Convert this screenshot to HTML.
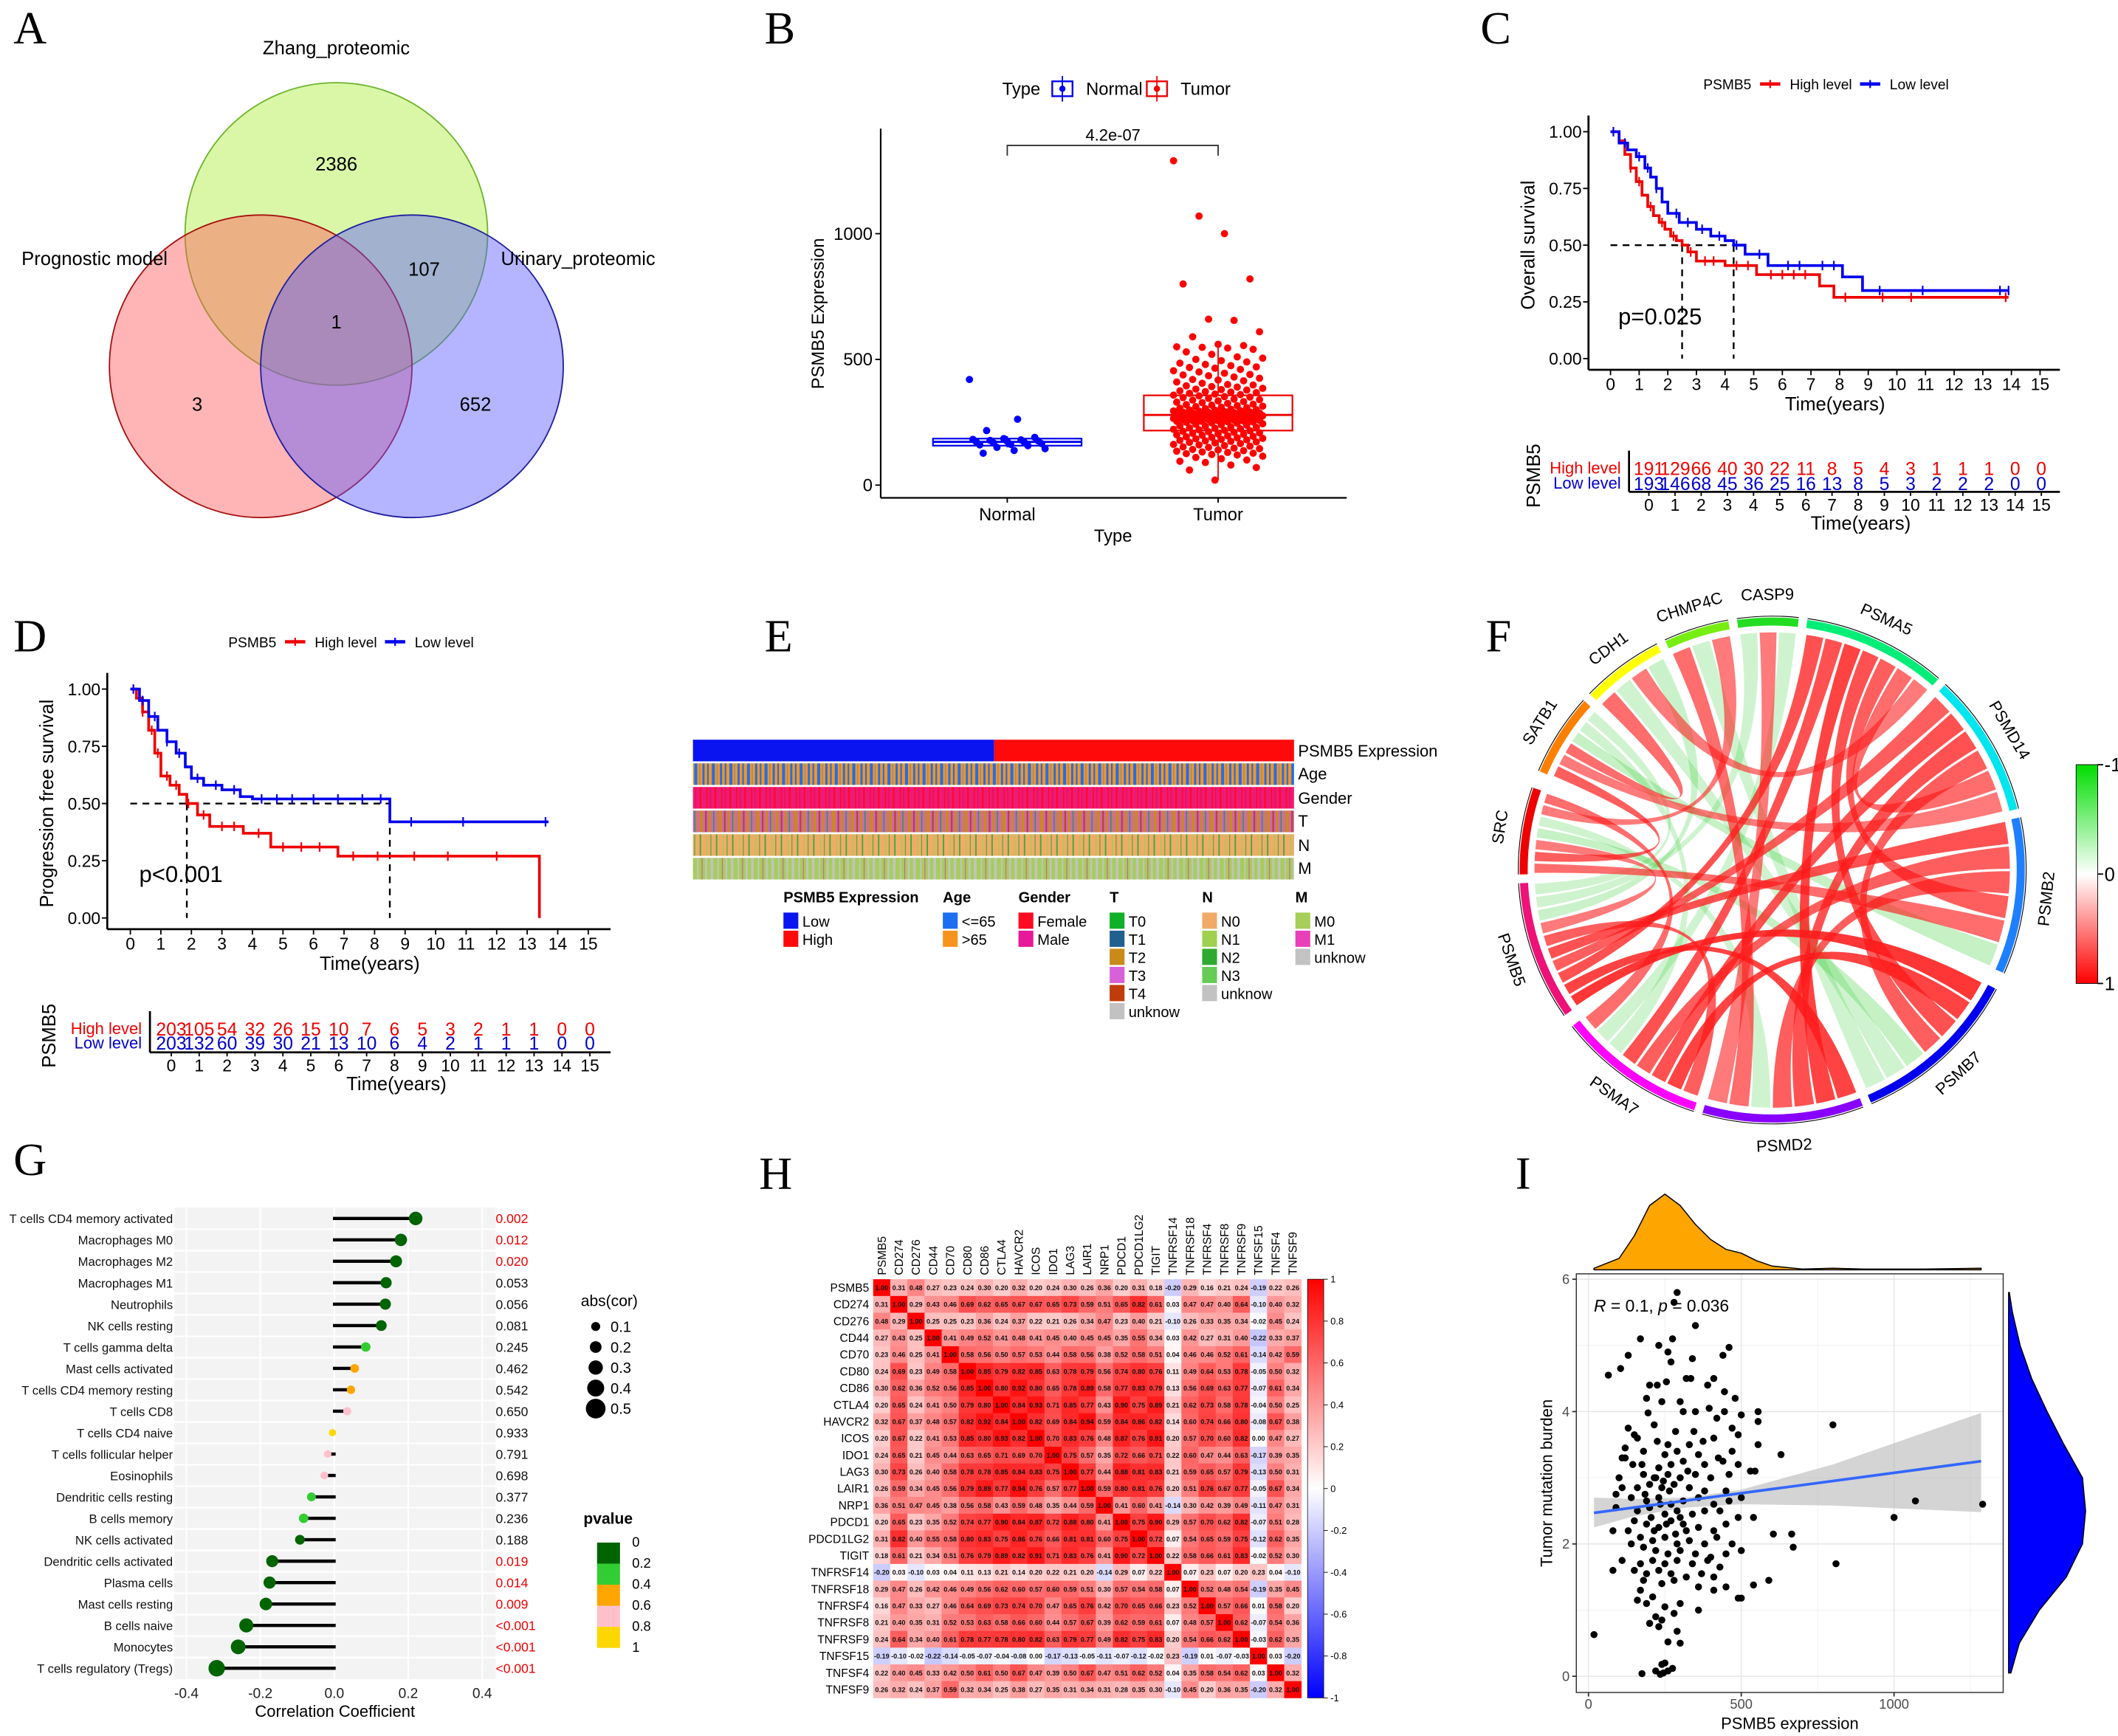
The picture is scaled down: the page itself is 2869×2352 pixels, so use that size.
<!DOCTYPE html>
<html><head><meta charset="utf-8"><title>PSMB5 figure</title>
<style>html,body{margin:0;padding:0;background:#fff}svg{display:block}text{font-family:"Liberation Sans",sans-serif}.L{font-family:"Liberation Serif",serif;font-size:34px}</style>
</head><body>
<svg id="fig" xmlns="http://www.w3.org/2000/svg" width="2869" height="2352" viewBox="0 0 1568 1285">
<defs>
<pattern id="pAge" width="13" height="20" patternUnits="userSpaceOnUse"><rect width="13" height="20" fill="#f7941d"/><rect x="0" width="1.6" height="20" fill="#1c6ff0"/><rect x="3.5" width="1.2" height="20" fill="#1c6ff0"/><rect x="7" width="2.2" height="20" fill="#1c6ff0"/><rect x="10.5" width="0.8" height="20" fill="#8a8a9a"/></pattern>
<pattern id="pGen" width="11" height="20" patternUnits="userSpaceOnUse"><rect width="11" height="20" fill="#ee1a78"/><rect x="1" width="1.2" height="20" fill="#ff0a20"/><rect x="6" width="0.8" height="20" fill="#ff0a20"/><rect x="8.5" width="1" height="20" fill="#f01050"/></pattern>
<pattern id="pT" width="14" height="20" patternUnits="userSpaceOnUse"><rect width="14" height="20" fill="#cf62c8"/><rect x="0" width="2.5" height="20" fill="#c98a1a"/><rect x="4" width="1.2" height="20" fill="#b8451a"/><rect x="6.5" width="2" height="20" fill="#c98a1a"/><rect x="10" width="0.8" height="20" fill="#20a040"/><rect x="12" width="1" height="20" fill="#c98a1a"/></pattern>
<pattern id="pN" width="12" height="20" patternUnits="userSpaceOnUse"><rect width="12" height="20" fill="#f2aa68"/><rect x="2" width="1" height="20" fill="#2fb03a"/><rect x="7" width="0.8" height="20" fill="#9fd050"/><rect x="10" width="0.6" height="20" fill="#2fb03a"/></pattern>
<pattern id="pM" width="15" height="20" patternUnits="userSpaceOnUse"><rect width="15" height="20" fill="#a6ce58"/><rect x="1" width="2" height="20" fill="#c2c2c2"/><rect x="6" width="1.2" height="20" fill="#c2c2c2"/><rect x="9.5" width="0.5" height="20" fill="#e040b0"/><rect x="12" width="1.5" height="20" fill="#c2c2c2"/></pattern>
<linearGradient id="gF" x1="0" y1="0" x2="0" y2="1"><stop offset="0" stop-color="#00dd00"/><stop offset="0.5" stop-color="#ffffff"/><stop offset="1" stop-color="#ff0000"/></linearGradient>
<linearGradient id="gH" x1="0" y1="0" x2="0" y2="1"><stop offset="0" stop-color="#ff0000"/><stop offset="0.5" stop-color="#ffffff"/><stop offset="1" stop-color="#0000ff"/></linearGradient>
</defs>
<g>
<text class="L" x="10" y="32">A</text>
<text class="L" x="566" y="32">B</text>
<text class="L" x="1096" y="32">C</text>
<text class="L" x="10" y="482">D</text>
<text class="L" x="566" y="482">E</text>
<text class="L" x="1100" y="482">F</text>
<text class="L" x="10" y="870">G</text>
<text class="L" x="562" y="880">H</text>
<text class="L" x="1122" y="880">I</text>
</g>
<g id="venn" font-size="14">
<circle cx="249" cy="173" r="112" fill="#b5f050" fill-opacity="0.5" stroke="#6cb52a" stroke-width="1"/>
<circle cx="193" cy="271" r="112" fill="#ff5a5a" fill-opacity="0.45" stroke="#a81010" stroke-width="1"/>
<circle cx="305" cy="271" r="112" fill="#5a5aff" fill-opacity="0.45" stroke="#2020a0" stroke-width="1"/>
<text x="249" y="40" text-anchor="middle">Zhang_proteomic</text>
<text x="70" y="196" text-anchor="middle">Prognostic model</text>
<text x="428" y="196" text-anchor="middle">Urinary_proteomic</text>
<text x="249" y="126" text-anchor="middle">2386</text>
<text x="314" y="204" text-anchor="middle">107</text>
<text x="249" y="243" text-anchor="middle">1</text>
<text x="146" y="304" text-anchor="middle">3</text>
<text x="352" y="304" text-anchor="middle">652</text>
</g>
<g id="E" font-size="12">
<rect x="513" y="547.5" width="223" height="16" fill="#0a14f0"/>
<rect x="736" y="547.5" width="222" height="16" fill="#ff0a0a"/>
<rect x="513" y="565" width="445" height="16" fill="url(#pAge)"/>
<rect x="513" y="582.5" width="445" height="16" fill="url(#pGen)"/>
<rect x="513" y="600" width="445" height="16" fill="url(#pT)"/>
<rect x="513" y="617.5" width="445" height="16" fill="url(#pN)"/>
<rect x="513" y="635" width="445" height="16" fill="url(#pM)"/>
<text x="961" y="560">PSMB5 Expression</text>
<text x="961" y="577">Age</text>
<text x="961" y="595">Gender</text>
<text x="961" y="612">T</text>
<text x="961" y="630">N</text>
<text x="961" y="647">M</text>
</g>
<g id="Elegend" font-size="11"></g>
<g id="A_B"></g>
<g id="C"></g>
<g id="D"></g>
<g id="F"></g>
<g id="G"></g>
<g id="H"></g>
<g id="I"></g>
</svg>
<script>
const NS='http://www.w3.org/2000/svg';
function mk(tag,attrs,parent){const e=document.createElementNS(NS,tag);for(const k in attrs)e.setAttribute(k,attrs[k]);parent.appendChild(e);return e;}
function tx(str,x,y,attrs,parent){const e=mk('text',Object.assign({x:x,y:y},attrs),parent);e.textContent=str;return e;}

/* ===== E legend data ===== */
const eGroups=['PSMB5 Expression','Age','Gender','T','N','M'];
const eGroupX=[580,698,754,821.5,890,959];
const eItems=[['Low','High'],['<=65','>65'],['Female','Male'],['T0','T1','T2','T3','T4','unknow'],['N0','N1','N2','N3','unknow'],['M0','M1','unknow']];
const eColors=[['#0a14f0','#ff0a0a'],['#1c6ff0','#f7941d'],['#ff0a20','#e8189a'],['#10b028','#1f6090','#c98a1a','#d860d8','#c03c0a','#c2c2c2'],['#f2aa68','#9fd050','#2faa30','#66cc55','#c2c2c2'],['#a6ce58','#e840b8','#c2c2c2']];
const EL=document.getElementById('Elegend');
eGroups.forEach((g,gi)=>{
  const h=tx(g,eGroupX[gi],668,{'font-weight':'bold'},EL);
  
  
  eItems[gi].forEach((it,ii)=>{
    const y=675.5+ii*13.4;
    const r=mk('rect',{x:eGroupX[gi],y:y,width:11,height:12,fill:eColors[gi][ii]},EL);
    
    
    const t=tx(it,eGroupX[gi]+14,y+10.5,{},EL);
    
    
  });
});

/* ===== B boxplot ===== */
const bNormal=[420,262,217,190,185,182,180,178,176,174,172,170,168,165,162,160,157,150,145,138,127];
const bTumor=[1290,1070,1000,820,800,660,655,610,590,560,555,550,548,545,540,530,520,510,505,500,495,490,485,480,475,470,468,465,460,455,450,445,440,438,435,430,425,420,418,415,410,405,400,398,395,392,390,385,382,380,378,375,372,370,368,365,362,360,358,355,352,350,348,345,342,340,338,335,332,330,328,325,322,320,318,316,314,312,310,308,306,304,302,300,299,298,296,295,294,292,291,290,289,288,287,286,285,284,283,282,281,280,279,278,277,276,275,274,273,272,271,270,269,268,267,266,265,264,263,262,261,260,259,258,257,256,255,254,253,252,251,250,248,246,244,242,240,238,236,234,232,230,228,226,224,222,220,218,216,214,212,210,208,206,204,202,200,198,196,194,192,190,188,186,184,182,180,178,176,174,172,170,168,165,162,160,157,155,152,150,147,145,142,140,137,135,132,130,127,125,122,120,115,110,105,100,95,90,80,70,60,20];
const bBoxNormal=[150,157,172,185,195];
const bBoxTumor=[20,217,279,357,560];
const bTicks=[0,500,1000];
const B=document.getElementById('A_B');
const yB=v=>359-v*0.1862;
const xBn=745.7, xBt=901.8;
{
  let e;
  e=mk('line',{x1:652,y1:95,x2:652,y2:368.4,stroke:'#000','stroke-width':1.2},B);
   
  e=mk('line',{x1:652,y1:368.4,x2:997,y2:368.4,stroke:'#000','stroke-width':1.2},B);
   
  bTicks.forEach(t=>{
    const l=mk('line',{x1:648,y1:yB(t),x2:652,y2:yB(t),stroke:'#000'},B);
     
    const tt=tx(String(t),646,yB(t)+4.5,{'text-anchor':'end','font-size':13},B);
     
  });
  [[xBn,'Normal'],[xBt,'Tumor']].forEach(([x,n])=>{
    const l=mk('line',{x1:x,y1:368.4,x2:x,y2:372,stroke:'#000'},B);
     
    const tt=tx(n,x,385,{'text-anchor':'middle','font-size':13},B);
     
  });
  e=tx('Type',824,401,{'text-anchor':'middle','font-size':13},B);
   
  e=tx('PSMB5 Expression',0,0,{'text-anchor':'middle','font-size':13,transform:'translate(610,232) rotate(-90)'},B);
   
  function box(x,s,col,nm){
    const g=mk('g',{},B);
     
    mk('line',{x1:x,y1:yB(s[0]),x2:x,y2:yB(s[4]),stroke:col,'stroke-width':1},g);
    mk('rect',{x:x-55,y:yB(s[3]),width:110,height:yB(s[1])-yB(s[3]),fill:'#fff',stroke:col,'stroke-width':1.2},g);
    mk('line',{x1:x-55,y1:yB(s[2]),x2:x+55,y2:yB(s[2]),stroke:col,'stroke-width':1.6},g);
  }
  box(xBn,bBoxNormal,'#0000ee','box-normal');
  box(xBt,bBoxTumor,'#ee0000','box-tumor');
  bNormal.forEach((v,i)=>{
    const c=mk('circle',{cx:xBn+((i*37)%23-11)/11*28,cy:yB(v),r:2.7,fill:'#0000ff'},B);
     
  });
  bTumor.forEach((v,i)=>{
    const c=mk('circle',{cx:xBt+((i*37)%29-14)/14*33,cy:yB(v),r:2.7,fill:'#ff0000'},B);
     
  });
  e=mk('path',{d:`M${xBn},115 V107.5 H${xBt} V115`,fill:'none',stroke:'#333','stroke-width':1},B);
   
  e=tx('4.2e-07',824,104,{'text-anchor':'middle','font-size':12},B);
   
  e=tx('Type',742,70,{'font-size':13},B);
   
  [[779,'#0000ee','Normal',804],[849,'#ee0000','Tumor',874]].forEach(([x,c,n,tx0])=>{
    const g=mk('g',{},B);
     
    mk('rect',{x:x,y:60,width:15,height:11,fill:'#fff',stroke:c,'stroke-width':1.3},g);
    mk('line',{x1:x+7.5,y1:56,x2:x+7.5,y2:75,stroke:c},g);
    mk('circle',{cx:x+7.5,cy:65.5,r:2.3,fill:c},g);
    tx(n,tx0,70,{'font-size':13},g);
  });
}

/* ===== KM helper ===== */
function km(par,cfg){
  const X=t=>cfg.x0+t*cfg.xs, Y=s=>cfg.y0-s*cfg.ys;
  let e;
  e=mk('line',{x1:cfg.ax,y1:cfg.y0-cfg.ys-12,x2:cfg.ax,y2:cfg.axY,stroke:'#000','stroke-width':1.5},par);
   
  e=mk('line',{x1:cfg.ax,y1:cfg.axY,x2:cfg.axR,y2:cfg.axY,stroke:'#000','stroke-width':1.5},par);
   
  kmYTicks.forEach(s=>{
    const l=mk('line',{x1:cfg.ax-4,y1:Y(s),x2:cfg.ax,y2:Y(s),stroke:'#000'},par);
     
    const t=tx(s.toFixed(2),cfg.ax-5,Y(s)+4.5,{'text-anchor':'end','font-size':12.5},par);
     
  });
  kmXTicks.forEach(t=>{
    const l=mk('line',{x1:X(t),y1:cfg.axY,x2:X(t),y2:cfg.axY+4,stroke:'#000'},par);
     
    const tt=tx(String(t),X(t),cfg.axY+15,{'text-anchor':'middle','font-size':12.5},par);
     
  });
  e=tx('Time(years)',(cfg.ax+cfg.axR)/2+8,cfg.axY+30,{'text-anchor':'middle','font-size':14},par);
   
  e=tx(cfg.ylab,0,0,{'text-anchor':'middle','font-size':14,transform:`translate(${cfg.ax-40},${Y(0.5)}) rotate(-90)`},par);
   
  const mx=Math.max(cfg.medH,cfg.medL);
  e=mk('path',{d:`M${X(0)},${Y(0.5)} H${X(mx)} M${X(cfg.medH)},${Y(0.5)} V${Y(0)} M${X(cfg.medL)},${Y(0.5)} V${Y(0)}`,stroke:'#000','stroke-width':1.3,'stroke-dasharray':'5,4',fill:'none'},par);
   
  function curve(T,S,col,nm,cens){
    let d=`M${X(T[0])},${Y(S[0])}`;
    for(let i=1;i<T.length;i++) d+=` H${X(T[i])} V${Y(S[i])}`;
    const p=mk('path',{d:d,fill:'none',stroke:col,'stroke-width':2},par);
     
    cens.forEach(t=>{
      let s=S[0]; for(let i=0;i<T.length;i++){ if(T[i]<=t) s=S[i]; }
      const c=mk('line',{x1:X(t),y1:Y(s)-3.5,x2:X(t),y2:Y(s)+3.5,stroke:col,'stroke-width':1.2},par);
       
    });
  }
  curve(cfg.hT,cfg.hS,'#ee0000','curve-high-level',cfg.hC);
  curve(cfg.lT,cfg.lS,'#0000ee','curve-low-level',cfg.lC);
  e=tx(cfg.ptxt,cfg.px,cfg.py,{'font-size':17},par);
   
  e=tx('PSMB5',cfg.lgX,cfg.lgY+4,{'font-size':10.5},par);
   
  [[cfg.lgX+42,'#ee0000','High level'],[cfg.lgX+116,'#0000ee','Low level']].forEach(([x,c,n])=>{
    const g=mk('g',{},par);
     
    mk('line',{x1:x,y1:cfg.lgY,x2:x+15,y2:cfg.lgY,stroke:c,'stroke-width':2.5},g);
    mk('line',{x1:x+7.5,y1:cfg.lgY-3,x2:x+7.5,y2:cfg.lgY+3,stroke:c,'stroke-width':1.2},g);
    tx(n,x+22,cfg.lgY+4,{'font-size':10.5},g);
  });
  const RX=t=>cfg.r0+t*cfg.rs;
  e=mk('line',{x1:cfg.rv,y1:cfg.rHy-13,x2:cfg.rv,y2:cfg.rAx,stroke:'#000','stroke-width':1.5},par);
   
  e=mk('line',{x1:cfg.rv,y1:cfg.rAx,x2:cfg.axR,y2:cfg.rAx,stroke:'#000','stroke-width':1.5},par);
   
  kmXTicks.forEach(t=>{
    mk('line',{x1:RX(t),y1:cfg.rAx,x2:RX(t),y2:cfg.rAx+3,stroke:'#000'},par);
    const tt=tx(String(t),RX(t),cfg.rAx+14,{'text-anchor':'middle','font-size':12.5},par);
     
  });
  [[cfg.riskH,'#ee0000',cfg.rHy,'High level'],[cfg.riskL,'#0000cc',cfg.rLy,'Low level']].forEach(([arr,c,y,n])=>{
    const lab=tx(n,cfg.rv-6,y+4,{'text-anchor':'end','font-size':12,fill:c},par);
     
    arr.forEach((v,i)=>{
      const t=tx(String(v),RX(kmXTicks[i]),y+5,{'text-anchor':'middle','font-size':13.5,fill:c},par);
       
    });
  });
  e=tx('Time(years)',(cfg.rv+cfg.axR)/2+12,cfg.rAx+28,{'text-anchor':'middle','font-size':14},par);
   
  e=tx('PSMB5',0,0,{'text-anchor':'middle','font-size':14,transform:`translate(${cfg.rLabX},${(cfg.rHy+cfg.rLy)/2}) rotate(-90)`},par);
   
}
const kmYTicks=[0,0.25,0.5,0.75,1];
const kmXTicks=[0,1,2,3,4,5,6,7,8,9,10,11,12,13,14,15];
const cHighT=[0,0.3,0.5,0.7,0.9,1.1,1.3,1.5,1.7,1.9,2.1,2.3,2.5,2.7,3.0,4.0,5.1,7.3,7.8,13.9];
const cHighS=[1,0.96,0.9,0.84,0.78,0.72,0.67,0.63,0.6,0.57,0.54,0.52,0.5,0.47,0.43,0.41,0.37,0.32,0.27,0.27];
const cLowT=[0,0.3,0.6,0.9,1.2,1.4,1.6,1.8,2.0,2.4,3.0,3.5,4.0,4.3,4.7,5.5,8.1,8.8,13.9];
const cLowS=[1,0.95,0.92,0.89,0.84,0.8,0.75,0.69,0.64,0.6,0.57,0.54,0.52,0.5,0.46,0.41,0.36,0.30,0.30];
const cHighCens=[0.7,1.0,1.4,1.8,2.2,2.8,3.3,3.6,4.4,4.8,5.6,6.0,6.4,6.8,8.2,9.5,10.5,13.8];
const cLowCens=[0.1,0.5,1.0,1.3,1.6,2.3,2.7,3.2,3.8,4.4,5.2,6.2,6.6,7.4,7.8,9.4,10.9,13.6,13.9];
const cRiskHigh=[191,129,66,40,30,22,11,8,5,4,3,1,1,1,0,0];
const cRiskLow=[193,146,68,45,36,25,16,13,8,5,3,2,2,2,0,0];
km(document.getElementById('C'),{x0:1192.3,xs:21.2,y0:265.3,ys:168,ax:1176,axY:273.6,axR:1525,ylab:'Overall survival',
  hT:cHighT,hS:cHighS,lT:cLowT,lS:cLowS,hC:cHighCens,lC:cLowCens,medH:2.5,medL:4.3,ptxt:'p=0.025',px:1198,py:240,
  lgX:1261,lgY:62,r0:1220.7,rs:19.37,rv:1206,rAx:364,rHy:346.5,rLy:357.7,riskH:cRiskHigh,riskL:cRiskLow,rLabX:1140});
const dHighT=[0,0.2,0.4,0.6,0.8,1.0,1.3,1.6,1.85,2.2,2.6,3.7,4.6,6.8,13.4,13.4];
const dHighS=[1,0.96,0.9,0.82,0.72,0.62,0.58,0.54,0.5,0.45,0.40,0.37,0.31,0.27,0.27,0];
const dLowT=[0,0.3,0.6,0.9,1.2,1.5,1.8,2.0,2.4,3.0,3.6,4.0,8.5,13.7];
const dLowS=[1,0.95,0.88,0.82,0.77,0.72,0.66,0.61,0.58,0.56,0.53,0.52,0.42,0.42];
const dHighCens=[0.4,0.7,0.9,1.2,1.5,1.9,2.4,3.0,3.4,4.2,5.0,5.6,6.2,7.3,8.1,9.3,10.4,12.0];
const dLowCens=[0.1,0.4,0.8,1.2,1.6,2.2,2.8,3.4,4.3,4.8,5.3,6.0,6.8,7.6,8.2,9.2,10.9,13.6];
const dRiskHigh=[203,105,54,32,26,15,10,7,6,5,3,2,1,1,0,0];
const dRiskLow=[203,132,60,39,30,21,13,10,6,4,2,1,1,1,0,0];
km(document.getElementById('D'),{x0:96.5,xs:22.6,y0:679.5,ys:169.5,ax:79.4,axY:687.8,axR:452,ylab:'Progression free survival',
  hT:dHighT,hS:dHighS,lT:dLowT,lS:dLowS,hC:dHighCens,lC:dLowCens,medH:1.85,medL:8.5,ptxt:'p<0.001',px:103,py:653,
  lgX:169,lgY:475,r0:126.8,rs:20.66,rv:111,rAx:779,rHy:761.5,rLy:772,riskH:dRiskHigh,riskL:dRiskLow,rLabX:41});

/* ===== F chord ===== */
const fNames=['CASP9','PSMA5','PSMD14','PSMB2','PSMB7','PSMD2','PSMA7','PSMB5','SRC','SATB1','CDH1','CHMP4C'];
const fStart=[-8,8,43,78,118,159,198,235,269,293,314,335];
const fEnd=[6,41,76,114,157,196,232,267,289,312,333,350];
const fColors=['#22dd22','#00ee77','#00e5ee','#1e80ff','#0000ee','#8800ff','#ff00ff','#ee1177','#ee0000','#ff8000','#ffff00','#77ee11'];
const fLinks=[['PSMB5','PSMB7',0.8],['PSMB5','PSMD2',0.7],['PSMB5','PSMA5',0.6],['PSMB5','PSMD14',0.5],['PSMB5','PSMB2',0.6],['PSMB5','PSMA7',0.5],
['PSMA7','PSMB7',0.7],['PSMA7','PSMD14',0.6],['PSMA7','PSMB2',0.5],['PSMA7','PSMA5',0.6],['PSMD2','PSMA5',0.7],['PSMD2','PSMD14',0.6],['PSMD2','PSMB2',0.5],
['PSMB7','PSMA5',0.6],['PSMB7','PSMD14',0.5],['PSMB2','PSMA5',0.5],['PSMD14','PSMA5',0.4],['SRC','PSMB2',0.4],['SRC','SATB1',0.5],['SRC','PSMB5',0.3],
['SRC','PSMB7',-0.3],['SRC','PSMD2',-0.2],['SATB1','PSMD14',0.3],['SATB1','CDH1',0.4],['SATB1','PSMB2',-0.3],['SATB1','PSMA7',-0.2],['CDH1','PSMB7',-0.2],
['CDH1','PSMA5',0.3],['CDH1','PSMB5',-0.25],['CHMP4C','PSMD2',0.4],['CHMP4C','PSMB7',-0.2],['CHMP4C','SRC',0.3],['CASP9','PSMB5',-0.2],['CASP9','PSMD2',0.3],
['CASP9','PSMA7',-0.2],['SRC','PSMA7',0.4],['PSMB5','SATB1',-0.2]];
{
  const F=document.getElementById('F');
  const cx=1312,cy=644,R=176;
  const P=(a,r)=>[cx+r*Math.sin(a*Math.PI/180),cy-r*Math.cos(a*Math.PI/180)];
  const slots={}; fNames.forEach(n=>slots[n]=[]);
  fLinks.forEach((l,i)=>{slots[l[0]].push(i);slots[l[1]].push(i);});
  const ends={};
  fNames.forEach((n,k)=>{
    const arr=slots[n], span=(fEnd[k]-fStart[k])/Math.max(arr.length,1);
    arr.forEach((li,j)=>{ (ends[li]=ends[li]||[]).push([fStart[k]+j*span+0.3,fStart[k]+(j+1)*span-0.3]); });
  });
  const order=fLinks.map((l,i)=>i).sort((a,b)=>fLinks[a][2]-fLinks[b][2]);
  order.forEach(i=>{
    const l=fLinks[i];
    const [a,b]=ends[i], v=l[2];
    const p1=P(a[0],R),p2=P(a[1],R),q1=P(b[0],R),q2=P(b[1],R);
    const d=`M${p1} A${R},${R} 0 0 1 ${p2} Q${cx},${cy} ${q1} A${R},${R} 0 0 1 ${q2} Q${cx},${cy} ${p1} Z`;
    const col=v>=0?'#ff1a1a':'#40d040';
    const op=v>=0?(0.4+v*0.6):(0.15+Math.abs(v)*0.5);
    const e=mk('path',{d:d,fill:col,'fill-opacity':op.toFixed(2)},F);
     
  });
  fNames.forEach((n,k)=>{
    const a0=fStart[k],a1=fEnd[k],r=184;
    const s=P(a0,r),e2=P(a1,r);
    const arc=mk('path',{d:`M${s} A${r},${r} 0 0 1 ${e2}`,fill:'none',stroke:fColors[k],'stroke-width':6},F);
     
    const tk=mk('path',{d:`M${P(a0,188)} A188,188 0 0 1 ${P(a1,188)}`,fill:'none',stroke:'#000','stroke-width':0.6},F);
     
    const m=(a0+a1)/2, lp=P(m,204);
    let rot=m; if(((m%360)+360)%360>90 && ((m%360)+360)%360<270) rot=m-180;
    const t=tx(n,lp[0],lp[1]+4,{'text-anchor':'middle','font-size':12,transform:`rotate(${rot},${lp[0]},${lp[1]})`},F);
     
  });
  let e=mk('rect',{x:1537,y:566,width:16,height:162,fill:'url(#gF)',stroke:'#000','stroke-width':0.5},F);
   
  [['-1',566],['0',647],['1',728]].forEach(([s,y])=>{
    mk('line',{x1:1553,y1:y,x2:1557,y2:y,stroke:'#000'},F);
    const t=tx(s,1558,y+5,{'font-size':14},F);
     
  });
}

/* ===== G lollipop ===== */
const gCells=['T cells CD4 memory activated','Macrophages M0','Macrophages M2','Macrophages M1','Neutrophils','NK cells resting','T cells gamma delta','Mast cells activated','T cells CD4 memory resting','T cells CD8','T cells CD4 naive','T cells follicular helper','Eosinophils','Dendritic cells resting','B cells memory','NK cells activated','Dendritic cells activated','Plasma cells','Mast cells resting','B cells naive','Monocytes','T cells regulatory (Tregs)'];
const gCor=[0.22,0.18,0.167,0.14,0.138,0.127,0.085,0.055,0.045,0.035,-0.005,-0.018,-0.027,-0.062,-0.083,-0.093,-0.168,-0.175,-0.185,-0.238,-0.26,-0.318];
const gP=[0.002,0.012,0.020,0.053,0.056,0.081,0.245,0.462,0.542,0.650,0.933,0.791,0.698,0.377,0.236,0.188,0.019,0.014,0.009,0.0005,0.0005,0.0005];
const gTicks=[-0.4,-0.2,0,0.2,0.4];
const gSizeLegend=[0.1,0.2,0.3,0.4,0.5];
const gPalette=['#006400','#32cd32','#ffa500','#ffc0cb','#ffd700'];
{
  const G=document.getElementById('G');
  const X=v=>247.5+v*273.75, Y=i=>902+i*15.86, rad=v=>2.6+Math.abs(v)*11;
  let e=mk('rect',{x:129,y:894,width:238,height:349,fill:'#f3f3f3'},G);
   
  gTicks.forEach(t=>{ const l=mk('line',{x1:X(t),y1:894,x2:X(t),y2:1243,stroke:'#fff','stroke-width':1.2},G);  
    const tt=tx(t===0?'0.0':t.toFixed(1),X(t),1257,{'text-anchor':'middle','font-size':10.5,fill:'#222'},G);  });
  gCells.forEach((c,i)=>{
    if(i>0){const l=mk('line',{x1:129,y1:Y(i)-7.93,x2:367,y2:Y(i)-7.93,stroke:'#fff','stroke-width':1.2},G);  }
  });
  gCells.forEach((c,i)=>{
    const t=tx(c,128,Y(i)+3.5,{'text-anchor':'end','font-size':9.1,fill:'#111'},G);
     
    const st=mk('line',{x1:X(0)+(gCor[i]>=0?-1:1),y1:Y(i),x2:X(gCor[i]),y2:Y(i),stroke:'#000','stroke-width':2.4},G);
     
    const p=gP[i], col=gPalette[Math.min(4,Math.floor(p/0.2))];
    const d=mk('circle',{cx:X(gCor[i]),cy:Y(i),r:rad(gCor[i]),fill:col},G);
     
    const pl=tx(p<0.001?'<0.001':p.toFixed(3),367,Y(i)+3.5,{'font-size':9.6,fill:p<0.05?'#ee0000':'#111'},G);
     
  });
  e=tx('Correlation Coefficient',248,1271,{'text-anchor':'middle','font-size':12},G);
   
  e=tx('abs(cor)',430,967,{'font-size':11.5},G);
   
  gSizeLegend.forEach((s,i)=>{
    const y=982+i*15.2;
    const c=mk('circle',{cx:441,cy:y,r:rad(s)*0.9,fill:'#000'},G);  
    const t=tx(String(s),452,y+4,{'font-size':11},G);  
  });
  e=tx('pvalue',432,1128,{'font-size':11.5,'font-weight':'bold'},G);
   
  gPalette.forEach((c,i)=>{ const r=mk('rect',{x:442,y:1142+i*15.6,width:17,height:15.6,fill:c},G);  });
  ['0','0.2','0.4','0.6','0.8','1'].forEach((s,i)=>{ const t=tx(s,468,1145+i*15.6,{'font-size':10},G);  });
}

/* ===== H correlation heatmap ===== */
const hGenes=['PSMB5','CD274','CD276','CD44','CD70','CD80','CD86','CTLA4','HAVCR2','ICOS','IDO1','LAG3','LAIR1','NRP1','PDCD1','PDCD1LG2','TIGIT','TNFRSF14','TNFRSF18','TNFRSF4','TNFRSF8','TNFRSF9','TNFSF15','TNFSF4','TNFSF9'];
const hRow0=[1.00,0.31,0.48,0.27,0.23,0.24,0.30,0.20,0.32,0.20,0.24,0.30,0.26,0.36,0.20,0.31,0.18,-0.20,0.29,0.16,0.21,0.24,-0.19,0.22,0.26];
const hRow1=[0.31,1.00,0.29,0.43,0.46,0.69,0.62,0.65,0.67,0.67,0.65,0.73,0.59,0.51,0.65,0.82,0.61,0.03,0.47,0.47,0.40,0.64,-0.10,0.40,0.32];
const hRow2=[0.48,0.29,1.00,0.25,0.25,0.23,0.36,0.24,0.37,0.22,0.21,0.26,0.34,0.47,0.23,0.40,0.21,-0.10,0.26,0.33,0.35,0.34,-0.02,0.45,0.24];
const hRow3=[0.27,0.43,0.25,1.00,0.41,0.49,0.52,0.41,0.48,0.41,0.45,0.40,0.45,0.45,0.35,0.55,0.34,0.03,0.42,0.27,0.31,0.40,-0.22,0.33,0.37];
const hRow4=[0.23,0.46,0.25,0.41,1.00,0.58,0.56,0.50,0.57,0.53,0.44,0.58,0.56,0.38,0.52,0.58,0.51,0.04,0.46,0.46,0.52,0.61,-0.14,0.42,0.59];
const hRow5=[0.24,0.69,0.23,0.49,0.58,1.00,0.85,0.79,0.82,0.85,0.63,0.78,0.79,0.56,0.74,0.80,0.76,0.11,0.49,0.64,0.53,0.78,-0.05,0.50,0.32];
const hRow6=[0.30,0.62,0.36,0.52,0.56,0.85,1.00,0.80,0.92,0.80,0.65,0.78,0.89,0.58,0.77,0.83,0.79,0.13,0.56,0.69,0.63,0.77,-0.07,0.61,0.34];
const hRow7=[0.20,0.65,0.24,0.41,0.50,0.79,0.80,1.00,0.84,0.93,0.71,0.85,0.77,0.43,0.90,0.75,0.89,0.21,0.62,0.73,0.58,0.78,-0.04,0.50,0.25];
const hRow8=[0.32,0.67,0.37,0.48,0.57,0.82,0.92,0.84,1.00,0.82,0.69,0.84,0.94,0.59,0.84,0.86,0.82,0.14,0.60,0.74,0.66,0.80,-0.08,0.67,0.38];
const hRow9=[0.20,0.67,0.22,0.41,0.53,0.85,0.80,0.93,0.82,1.00,0.70,0.83,0.76,0.48,0.87,0.76,0.91,0.20,0.57,0.70,0.60,0.82,0.00,0.47,0.27];
const hRow10=[0.24,0.65,0.21,0.45,0.44,0.63,0.65,0.71,0.69,0.70,1.00,0.75,0.57,0.35,0.72,0.66,0.71,0.22,0.60,0.47,0.44,0.63,-0.17,0.39,0.35];
const hRow11=[0.30,0.73,0.26,0.40,0.58,0.78,0.78,0.85,0.84,0.83,0.75,1.00,0.77,0.44,0.88,0.81,0.83,0.21,0.59,0.65,0.57,0.79,-0.13,0.50,0.31];
const hRow12=[0.26,0.59,0.34,0.45,0.56,0.79,0.89,0.77,0.94,0.76,0.57,0.77,1.00,0.59,0.80,0.81,0.76,0.20,0.51,0.76,0.67,0.77,-0.05,0.67,0.34];
const hRow13=[0.36,0.51,0.47,0.45,0.38,0.56,0.58,0.43,0.59,0.48,0.35,0.44,0.59,1.00,0.41,0.60,0.41,-0.14,0.30,0.42,0.39,0.49,-0.11,0.47,0.31];
const hRow14=[0.20,0.65,0.23,0.35,0.52,0.74,0.77,0.90,0.84,0.87,0.72,0.88,0.80,0.41,1.00,0.75,0.90,0.29,0.57,0.70,0.62,0.82,-0.07,0.51,0.28];
const hRow15=[0.31,0.82,0.40,0.55,0.58,0.80,0.83,0.75,0.86,0.76,0.66,0.81,0.81,0.60,0.75,1.00,0.72,0.07,0.54,0.65,0.59,0.75,-0.12,0.62,0.35];
const hRow16=[0.18,0.61,0.21,0.34,0.51,0.76,0.79,0.89,0.82,0.91,0.71,0.83,0.76,0.41,0.90,0.72,1.00,0.22,0.58,0.66,0.61,0.83,-0.02,0.52,0.30];
const hRow17=[-0.20,0.03,-0.10,0.03,0.04,0.11,0.13,0.21,0.14,0.20,0.22,0.21,0.20,-0.14,0.29,0.07,0.22,1.00,0.07,0.23,0.07,0.20,0.23,0.04,-0.10];
const hRow18=[0.29,0.47,0.26,0.42,0.46,0.49,0.56,0.62,0.60,0.57,0.60,0.59,0.51,0.30,0.57,0.54,0.58,0.07,1.00,0.52,0.48,0.54,-0.19,0.35,0.45];
const hRow19=[0.16,0.47,0.33,0.27,0.46,0.64,0.69,0.73,0.74,0.70,0.47,0.65,0.76,0.42,0.70,0.65,0.66,0.23,0.52,1.00,0.57,0.66,0.01,0.58,0.20];
const hRow20=[0.21,0.40,0.35,0.31,0.52,0.53,0.63,0.58,0.66,0.60,0.44,0.57,0.67,0.39,0.62,0.59,0.61,0.07,0.48,0.57,1.00,0.62,-0.07,0.54,0.36];
const hRow21=[0.24,0.64,0.34,0.40,0.61,0.78,0.77,0.78,0.80,0.82,0.63,0.79,0.77,0.49,0.82,0.75,0.83,0.20,0.54,0.66,0.62,1.00,-0.03,0.62,0.35];
const hRow22=[-0.19,-0.10,-0.02,-0.22,-0.14,-0.05,-0.07,-0.04,-0.08,0.00,-0.17,-0.13,-0.05,-0.11,-0.07,-0.12,-0.02,0.23,-0.19,0.01,-0.07,-0.03,1.00,0.03,-0.20];
const hRow23=[0.22,0.40,0.45,0.33,0.42,0.50,0.61,0.50,0.67,0.47,0.39,0.50,0.67,0.47,0.51,0.62,0.52,0.04,0.35,0.58,0.54,0.62,0.03,1.00,0.32];
const hRow24=[0.26,0.32,0.24,0.37,0.59,0.32,0.34,0.25,0.38,0.27,0.35,0.31,0.34,0.31,0.28,0.35,0.30,-0.10,0.45,0.20,0.36,0.35,-0.20,0.32,1.00];
const hRows=[hRow0,hRow1,hRow2,hRow3,hRow4,hRow5,hRow6,hRow7,hRow8,hRow9,hRow10,hRow11,hRow12,hRow13,hRow14,hRow15,hRow16,hRow17,hRow18,hRow19,hRow20,hRow21,hRow22,hRow23,hRow24];
const hScaleTicks=[1,0.8,0.6,0.4,0.2,0,-0.2,-0.4,-0.6,-0.8,-1];
{
  const H=document.getElementById('H');
  const x0=646.4,y0=947,cw=12.68,ch=12.4;
  const col=v=>{ if(v>=0){const g=Math.round(255*(1-v));return `rgb(255,${g},${g})`;} const g=Math.round(255*(1+v));return `rgb(${g},${g},255)`; };
  hRows.forEach((row,i)=>{
    row.forEach((v,j)=>{
      const r=mk('rect',{x:x0+j*cw,y:y0+i*ch,width:cw+0.2,height:ch+0.2,fill:col(v)},H);
       
      const t=tx(v.toFixed(2),x0+j*cw+cw/2,y0+i*ch+ch/2+1.9,{'text-anchor':'middle','font-size':5,'font-weight':'bold',fill:'#111'},H);
       
    });
  });
  hGenes.forEach((g,i)=>{
    const t=tx(g,x0-3,y0+i*ch+ch/2+3,{'text-anchor':'end','font-size':8.5},H);
     
    const cx=x0+i*cw+cw/2+3;
    const c=tx(g,0,0,{'font-size':8.5,transform:`translate(${cx},${y0-3}) rotate(-90)`},H);
     
  });
  let e=mk('rect',{x:968,y:y0,width:12,height:25*ch,fill:'url(#gH)',stroke:'#000','stroke-width':0.4},H);
   
  hScaleTicks.forEach(v=>{
    const y=y0+(1-v)/2*25*ch;
    mk('line',{x1:980,y1:y,x2:983,y2:y,stroke:'#000','stroke-width':0.5},H);
    const t=tx(String(v),985,y+2.5,{'font-size':7},H);
     
  });
}

/* ===== I scatter ===== */
const iPoints=[[18,0.63],[800,3.8],[810,1.7],[1000,2.4],[1070,2.65],[1290,2.6],[630,3.35],[605,2.15],[665,2.15],[670,1.95],[590,1.45],[540,1.38],[500,1.18],[490,1.18],[555,3.5],[555,3.85],[555,4.0],[545,3.1],[540,2.4],[65,4.55],[105,4.65],[130,4.85],[170,5.1],[230,5.0],[275,5.1],[290,5.8],[280,5.65],[350,5.3],[460,4.97],[440,4.85],[340,4.8],[260,4.9],[270,4.75],[200,4.4],[225,4.4],[255,4.45],[335,4.5],[320,4.5],[410,4.5],[390,4.4],[445,4.3],[480,4.2],[190,4.2],[240,4.15],[300,4.15],[310,4.0],[350,4.0],[395,4.05],[445,4.0],[500,3.95],[195,3.98],[130,3.75],[215,3.8],[285,3.7],[345,3.7],[420,3.9],[470,3.75],[150,3.65],[160,3.6],[225,3.55],[260,3.5],[330,3.5],[375,3.55],[410,3.6],[490,3.65],[120,3.45],[180,3.4],[250,3.35],[290,3.4],[360,3.35],[425,3.3],[470,3.4],[120,3.3],[110,3.3],[175,3.2],[230,3.15],[270,3.2],[310,3.25],[380,3.2],[440,3.25],[490,3.2],[145,3.2],[180,3.05],[220,3.0],[260,3.05],[300,3.0],[350,3.05],[400,3.0],[460,3.05],[530,3.1],[100,3.0],[90,2.75],[160,2.85],[200,2.9],[240,2.85],[280,2.9],[330,2.85],[380,2.8],[450,2.8],[110,2.85],[140,2.7],[190,2.65],[230,2.7],[270,2.6],[310,2.65],[360,2.7],[410,2.6],[460,2.65],[500,2.7],[90,2.55],[160,2.5],[200,2.55],[250,2.45],[290,2.5],[340,2.45],[380,2.5],[430,2.5],[490,2.4],[150,2.35],[190,2.3],[230,2.25],[270,2.35],[310,2.3],[360,2.25],[410,2.2],[450,2.3],[80,2.2],[130,2.2],[170,2.1],[210,2.05],[250,2.1],[290,2.0],[330,2.05],[380,2.0],[420,2.1],[470,2.0],[140,2.0],[180,1.95],[220,1.9],[260,1.85],[300,1.9],[350,1.85],[400,1.8],[450,1.85],[500,1.9],[110,1.75],[170,1.7],[210,1.75],[250,1.7],[290,1.75],[340,1.7],[390,1.75],[430,1.65],[80,1.6],[150,1.6],[190,1.55],[230,1.6],[270,1.55],[320,1.5],[370,1.55],[410,1.5],[180,1.45],[240,1.4],[280,1.45],[360,1.35],[410,1.3],[450,1.35],[170,1.3],[210,1.2],[160,1.15],[190,1.1],[250,1.05],[300,1.1],[360,1.0],[280,0.95],[220,0.9],[240,0.85],[200,0.8],[230,0.75],[290,0.68],[260,0.52],[300,0.5],[240,0.18],[250,0.2],[275,0.12],[220,0.08],[245,0.05],[260,0.08],[175,0.04],[235,0.03],[215,3.0],[235,2.6],[265,2.8],[205,2.4],[320,2.2],[285,2.15],[245,2.95],[185,2.75],[325,3.1],[215,2.2],[255,2.3],[300,2.4]];
const iFitX=[18,1285];
const iFitY=[2.47,3.25];
const iBandX=[18,150,320,500,800,1285];
const iBandLo=[2.25,2.42,2.55,2.6,2.58,2.48];
const iBandHi=[2.7,2.68,2.7,2.82,3.2,3.98];
const iTopDensX=[18,100,150,200,250,300,350,400,450,500,550,600,700,800,900,1000,1100,1285];
const iTopDensH=[0.02,0.15,0.45,0.85,1.0,0.85,0.6,0.4,0.27,0.22,0.12,0.05,0.01,0.02,0.01,0.01,0.01,0.02];
const iRightDensY=[0.05,0.5,1,1.5,2,2.5,3,3.5,4,4.5,5,5.5,5.8];
const iRightDensW=[0.03,0.14,0.4,0.75,0.96,1.0,0.96,0.72,0.5,0.3,0.15,0.05,0.01];
const iXTicks=[0,500,1000];
const iYTicks=[0,2,4,6];
{
  const I=document.getElementById('I');
  const X=v=>1176+v*0.2262, Y=v=>1241-v*49;
  const L=1167,R=1483,T=943,Bt=1253;
  let e=mk('rect',{x:L,y:T,width:R-L,height:Bt-T,fill:'#fff'},I);
   
  [250,750,1250].forEach(v=>{mk('line',{x1:X(v),y1:T,x2:X(v),y2:Bt,stroke:'#f2f2f2','stroke-width':0.6},I);});
  [1,3,5].forEach(v=>{mk('line',{x1:L,y1:Y(v),x2:R,y2:Y(v),stroke:'#f2f2f2','stroke-width':0.6},I);});
  iXTicks.forEach(v=>{ const l=mk('line',{x1:X(v),y1:T,x2:X(v),y2:Bt,stroke:'#e6e6e6','stroke-width':0.8},I);  
    mk('line',{x1:X(v),y1:Bt,x2:X(v),y2:Bt+3,stroke:'#333'},I);
    const t=tx(String(v),X(v),Bt+12,{'text-anchor':'middle','font-size':10,fill:'#4d4d4d'},I);  });
  iYTicks.forEach(v=>{ const l=mk('line',{x1:L,y1:Y(v),x2:R,y2:Y(v),stroke:'#e6e6e6','stroke-width':0.8},I);  
    mk('line',{x1:L-3,y1:Y(v),x2:L,y2:Y(v),stroke:'#333'},I);
    const t=tx(String(v),L-5,Y(v)+3.5,{'text-anchor':'end','font-size':10,fill:'#4d4d4d'},I);  });
  let d=''; iBandX.forEach((x,i)=>{d+=(i?'L':'M')+X(x)+','+Y(iBandHi[i]);});
  for(let i=iBandX.length-1;i>=0;i--) d+='L'+X(iBandX[i])+','+Y(iBandLo[i]);
  e=mk('path',{d:d+'Z',fill:'#b0b0b0','fill-opacity':0.55},I);
   
  iPoints.forEach(p=>{ const c=mk('circle',{cx:X(p[0]),cy:Y(p[1]),r:2.6,fill:'#000'},I);  });
  e=mk('line',{x1:X(iFitX[0]),y1:Y(iFitY[0]),x2:X(iFitX[1]),y2:Y(iFitY[1]),stroke:'#3366ff','stroke-width':2},I);
   
  e=mk('rect',{x:L,y:T,width:R-L,height:Bt-T,fill:'none',stroke:'#333','stroke-width':0.8},I);
   
  e=tx('',1180,971,{'font-size':12.5},I);
  e.innerHTML='<tspan font-style="italic">R</tspan> = 0.1, <tspan font-style="italic">p</tspan> = 0.036';
   
  e=tx('PSMB5 expression',1325,1280,{'text-anchor':'middle','font-size':12},I);
   
  e=tx('Tumor mutation burden',0,0,{'text-anchor':'middle','font-size':12,transform:'translate(1149,1098) rotate(-90)'},I);
   
  let td=`M${X(iTopDensX[0])},940`; iTopDensX.forEach((x,i)=>{td+=` L${X(x)},${940-iTopDensH[i]*56}`;}); td+=` L${X(iTopDensX[iTopDensX.length-1])},940 Z`;
  e=mk('path',{d:td,fill:'#ffa500',stroke:'#000','stroke-width':0.8,'stroke-linejoin':'round'},I);
   
  let rd=`M1487,${Y(iRightDensY[0])}`; iRightDensY.forEach((y,i)=>{rd+=` L${1487+iRightDensW[i]*57},${Y(y)}`;}); rd+=` L1487,${Y(iRightDensY[iRightDensY.length-1])} Z`;
  e=mk('path',{d:rd,fill:'#0000ff',stroke:'#000','stroke-width':0.8,'stroke-linejoin':'round'},I);
   
}
</script>
</body></html>
